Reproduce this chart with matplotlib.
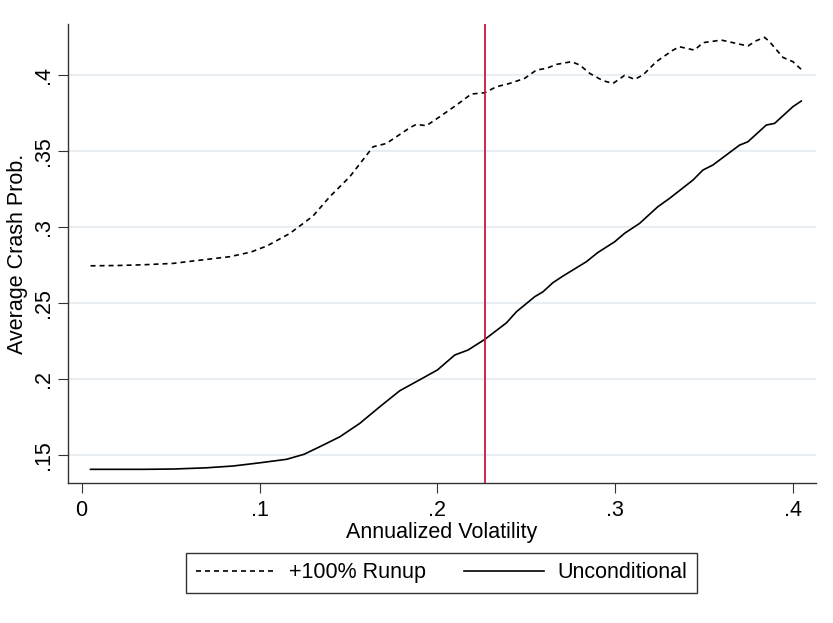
import matplotlib
matplotlib.use("Agg")
import matplotlib.pyplot as plt

plt.rcParams["font.family"] = ["Liberation Sans", "DejaVu Sans"]

# +100% Runup (dashed)
runup_x = [0.005, 0.02, 0.035, 0.0515, 0.065, 0.0833, 0.095, 0.104, 0.117, 0.130,
           0.1395, 0.1507, 0.1638, 0.1713, 0.1844, 0.188, 0.1938, 0.2013, 0.2107,
           0.219, 0.2266, 0.2331, 0.2406, 0.249, 0.2556, 0.2612, 0.2669, 0.2753,
           0.280, 0.2856, 0.293, 0.2987, 0.3052, 0.3108, 0.3155, 0.323, 0.3324,
           0.3361, 0.3445, 0.3492, 0.3596, 0.3661, 0.3745, 0.3792, 0.3839, 0.3867,
           0.3942, 0.3998, 0.4045]
runup_y = [0.2745, 0.2747, 0.2752, 0.2761, 0.2780, 0.2805, 0.2835, 0.2875, 0.2958,
           0.3072, 0.3200, 0.3331, 0.3528, 0.3550, 0.3653, 0.3675, 0.3667, 0.3726,
           0.3803, 0.3875, 0.3884, 0.3923, 0.3945, 0.3978, 0.4033, 0.4044, 0.4070,
           0.4088, 0.4066, 0.4011, 0.3963, 0.3945, 0.3998, 0.3972, 0.4000, 0.4088,
           0.4164, 0.4186, 0.4164, 0.4213, 0.4230, 0.4213, 0.4191, 0.4226, 0.4248,
           0.4219, 0.4116, 0.4088, 0.4037]

# Unconditional (solid)
uncond_x = [0.005, 0.02, 0.035, 0.0515, 0.07, 0.0852, 0.1002, 0.1152, 0.125, 0.1339,
            0.1451, 0.1564, 0.1676, 0.1788, 0.19, 0.2, 0.2097, 0.2172, 0.2266,
            0.2388, 0.2444, 0.2547, 0.2593, 0.2649, 0.2706, 0.2837, 0.2902, 0.2996,
            0.3052, 0.3136, 0.3239, 0.3305, 0.3436, 0.3492, 0.3548, 0.3698, 0.3745,
            0.3848, 0.3895, 0.3998, 0.4045]
uncond_y = [0.1406, 0.1406, 0.1406, 0.1408, 0.1416, 0.1428, 0.1449, 0.1472, 0.1505,
            0.1555, 0.1620, 0.1709, 0.1818, 0.1923, 0.1995, 0.2060, 0.2158, 0.2191,
            0.2261, 0.2370, 0.2443, 0.2542, 0.2574, 0.2634, 0.2678, 0.2772, 0.2833,
            0.2903, 0.2959, 0.3024, 0.3134, 0.3189, 0.3309, 0.3375, 0.3408, 0.3539,
            0.3561, 0.3671, 0.3682, 0.3792, 0.3829]

vline_x = 0.2267
x_ticks = [0, 0.1, 0.2, 0.3, 0.4]
x_labels = ["0", ".1", ".2", ".3", ".4"]
y_ticks = [0.15, 0.2, 0.25, 0.3, 0.35, 0.4]
y_labels = [".15", ".2", ".25", ".3", ".35", ".4"]

fig = plt.figure(figsize=(8.33, 6.23), dpi=100)
ax = fig.add_axes([0.0816, 0.2247, 0.8974, 0.7368])

for y in y_ticks:
    ax.axhline(y, color="#e8eef2", lw=1.5, zorder=0)

ax.plot(runup_x, runup_y, color="black", lw=1.2, dashes=(3.0, 2.4), label="+100% Runup")
ax.plot(uncond_x, uncond_y, color="black", lw=1.2, label="Unconditional")
ax.axvline(vline_x, color="#c8173f", lw=1.3)

ax.set_xlim(-0.0077, 0.4125)
ax.set_ylim(0.1316, 0.4336)
ax.set_xticks(x_ticks)
ax.set_xticklabels(x_labels)
ax.set_yticks(y_ticks)
ax.set_yticklabels(y_labels, rotation=90, va="center")

for s in ["top", "right"]:
    ax.spines[s].set_visible(False)
for s in ["left", "bottom"]:
    ax.spines[s].set_color("#333333")
    ax.spines[s].set_linewidth(1.0)

ax.tick_params(axis="both", direction="out", length=7, width=0.8, color="#333333",
               labelsize=15.5)
ax.tick_params(axis="x", pad=5)
ax.tick_params(axis="y", pad=3)

ax.set_xlabel("Annualized Volatility", fontsize=15.5, labelpad=1)
ax.set_ylabel("Average Crash Prob.", fontsize=15.5, labelpad=4)

leg = fig.legend(loc="center", bbox_to_anchor=(0.530, 0.0803), ncol=2, fontsize=15.5,
                 frameon=True, fancybox=False, edgecolor="black", handlelength=3.7,
                 handletextpad=0.65, columnspacing=1.75, borderpad=0.45)
leg.get_frame().set_linewidth(1.0)

fig.savefig("out.png", dpi=100)
